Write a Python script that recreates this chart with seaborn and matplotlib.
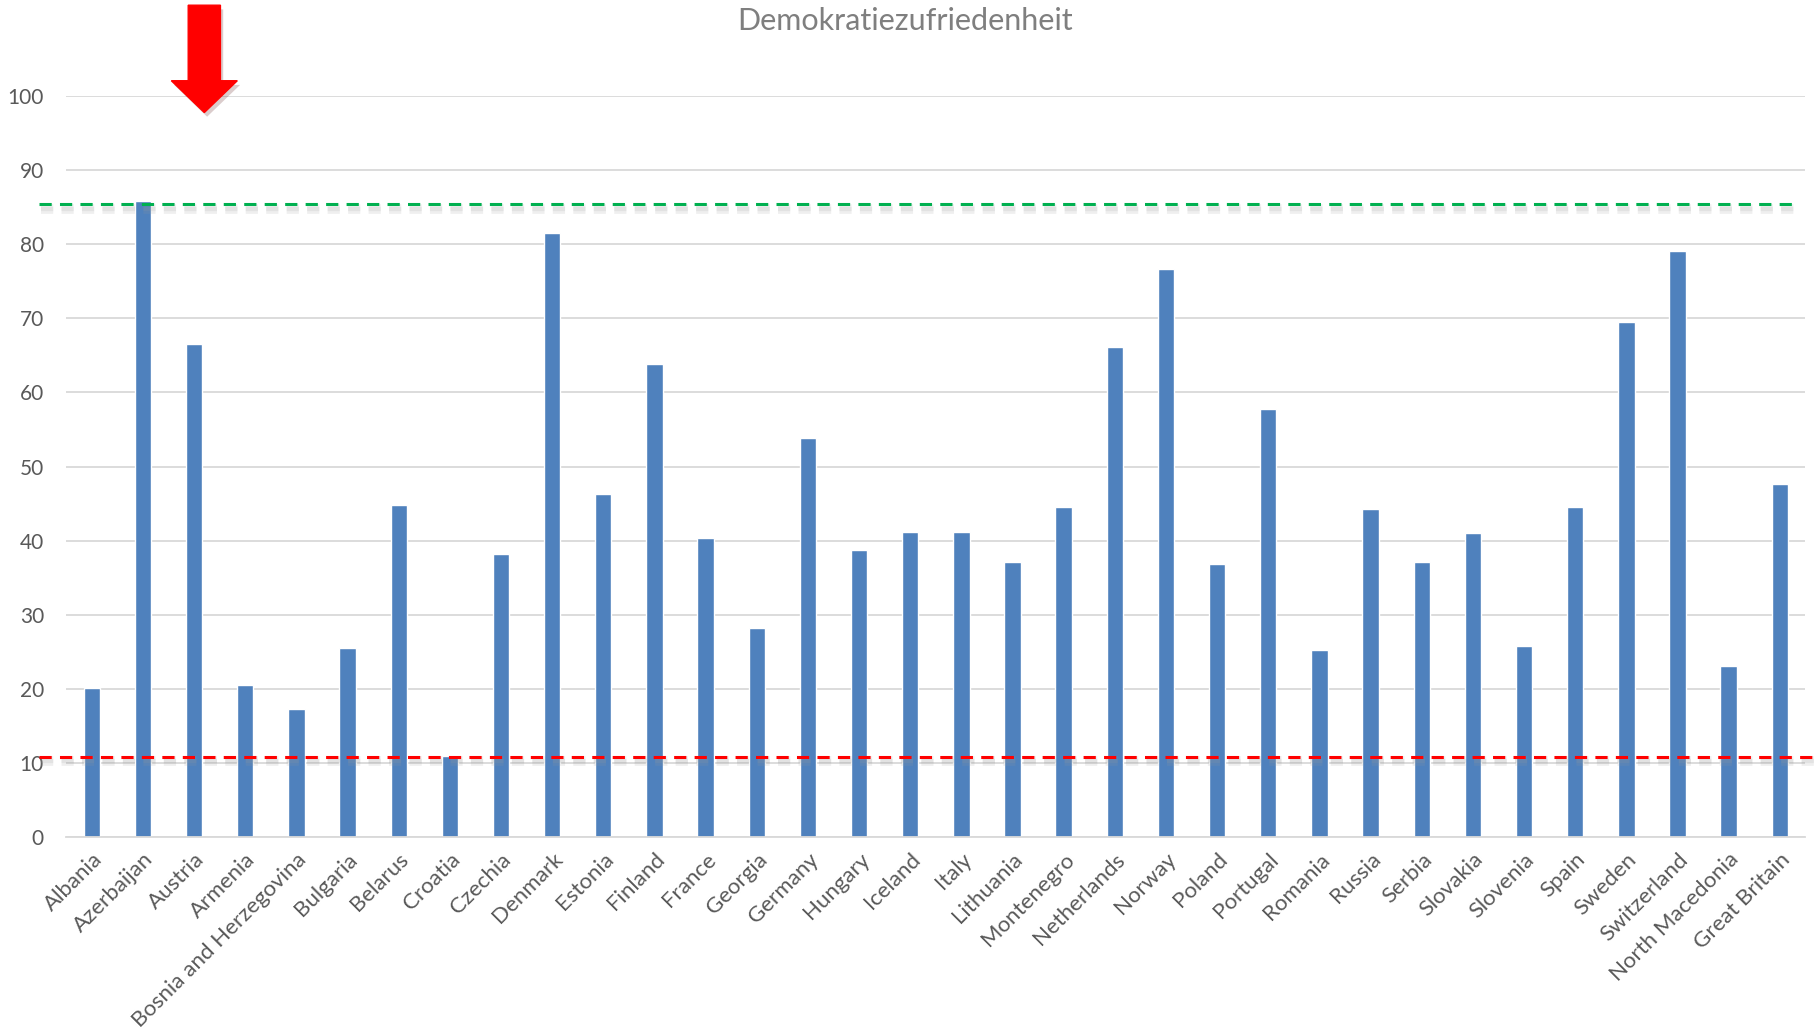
import matplotlib
matplotlib.use("Agg")
import matplotlib.pyplot as plt
import matplotlib.patheffects as pe
from matplotlib.patches import FancyArrow
import seaborn as sns

# Zufriedenheit mit der Demokratie je Land
countries = ["Albania", "Azerbaijan", "Austria", "Armenia", "Bosnia and Herzegovina",
             "Bulgaria", "Belarus", "Croatia", "Czechia", "Denmark", "Estonia",
             "Finland", "France", "Georgia", "Germany", "Hungary", "Iceland", "Italy",
             "Lithuania", "Montenegro", "Netherlands", "Norway", "Poland", "Portugal",
             "Romania", "Russia", "Serbia", "Slovakia", "Slovenia", "Spain", "Sweden",
             "Switzerland", "North Macedonia", "Great Britain"]
values = [20.1, 85.8, 66.6, 20.5, 17.3,
          25.5, 44.8, 10.9, 38.2, 81.6, 46.3,
          63.9, 40.4, 28.2, 53.9, 38.7, 41.2, 41.2,
          37.1, 44.5, 66.2, 76.7, 36.9, 57.8,
          25.2, 44.3, 37.1, 41.0, 25.8, 44.5, 69.5,
          79.1, 23.1, 47.6]
max_line = 85.4
min_line = 10.8
arrow_pos = 2.2   # ueber Austria

sns.set_theme(style="white")
plt.rcParams["font.family"] = ["Lato", "DejaVu Sans"]

fig = plt.figure(figsize=(18.19, 10.33), dpi=100)
ax = fig.add_axes([0.0364, 0.190, 0.9561, 0.7168])

sns.barplot(x=countries, y=values, color="#4F81BD", saturation=1, width=0.32, ax=ax)

ax.set_ylim(0, 100)
ax.set_xlim(-0.5, len(countries) - 0.5)
ax.set_yticks(range(0, 101, 10))
ax.yaxis.grid(True, color="#d9d9d9", linewidth=1.3)
ax.set_axisbelow(True)
for s in ["top", "right", "left"]:
    ax.spines[s].set_visible(False)
ax.spines["bottom"].set_color("#d9d9d9")
ax.spines["bottom"].set_linewidth(1.3)
ax.set_xlabel("")
ax.set_ylabel("")
ax.tick_params(axis="y", length=0, pad=16, labelsize=15, labelcolor="#595959")
ax.tick_params(axis="x", length=0, pad=9, labelsize=16, labelcolor="#595959")
plt.setp(ax.get_xticklabels(), rotation=45, ha="right", rotation_mode="anchor")

shadow = [pe.SimpleLineShadow(offset=(1, -3), shadow_color="#999999", alpha=0.15, linewidth=7),
          pe.SimpleLineShadow(offset=(1, -3), shadow_color="#999999", alpha=0.15, linewidth=3),
          pe.Normal()]
ax.axhline(max_line, xmin=-0.0154, xmax=0.993, color="#00B050", linestyle=(0, (4, 2.7)),
           linewidth=2.2, clip_on=False, path_effects=shadow)
ax.axhline(min_line, xmin=-0.0154, xmax=1.006, color="#FF0000", linestyle=(0, (4, 2.7)),
           linewidth=2.2, clip_on=False, path_effects=shadow)

# roter Pfeil
arrow = FancyArrow(arrow_pos, 112.3, 0, -14.5, width=0.63, head_width=1.29,
                   head_length=4.3, length_includes_head=True, color="#FF0000",
                   clip_on=False,
                   path_effects=[pe.SimplePatchShadow(offset=(2, -3), alpha=0.2), pe.Normal()])
ax.add_patch(arrow)

fig.text(0.4975, 0.980, "Demokratiezufriedenheit", ha="center", va="center",
         fontsize=22, color="#7f7f7f")

fig.savefig("out.png", dpi=100)
